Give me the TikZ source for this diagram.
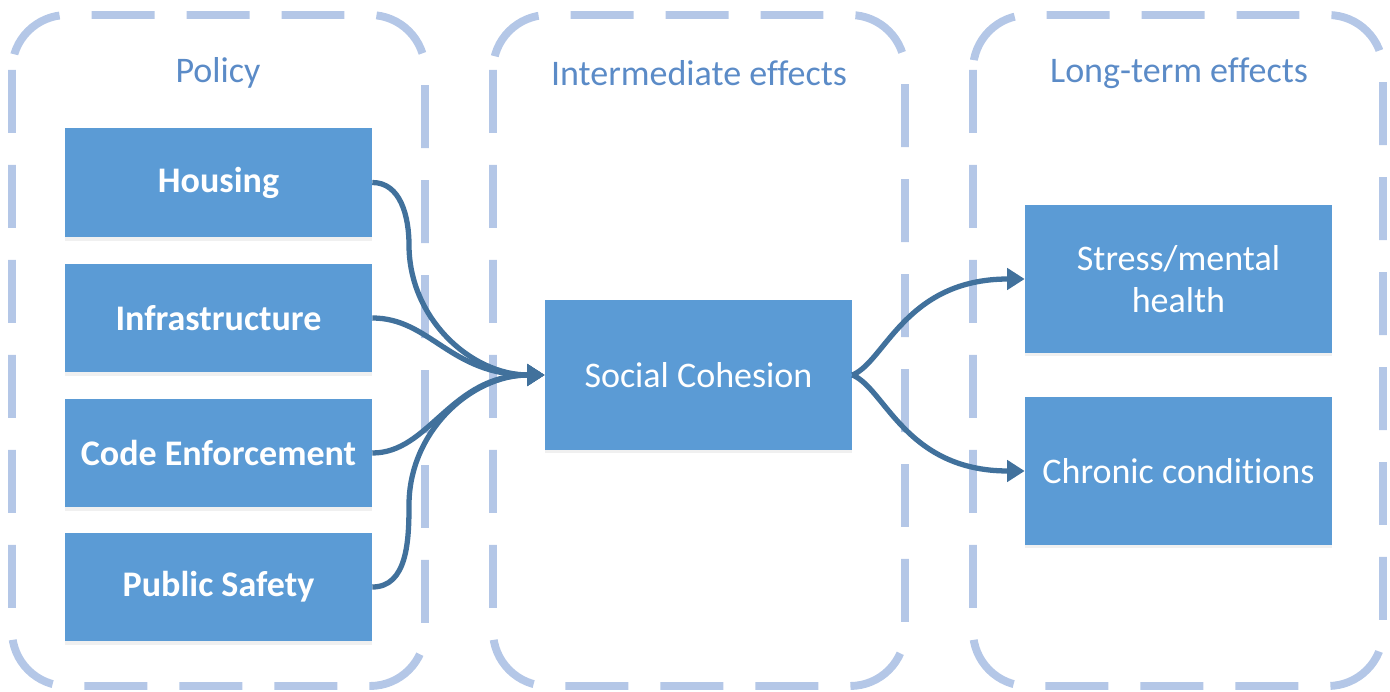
\documentclass[tikz,border=0pt]{standalone}
\usepackage{fontspec}
\setmainfont{Carlito}[Ligatures=NoCommon]
\usepackage{tikz}
\usetikzlibrary{positioning, arrows.meta, shadows}
\definecolor{zoneblue}{HTML}{B4C7E7}
\definecolor{boxblue}{HTML}{5B9BD5}
\definecolor{titleblue}{HTML}{5B8BC7}
\definecolor{flowblue}{HTML}{41719C}

\begin{document}
\begin{tikzpicture}[
    x=0.02cm, y=-0.02cm,
    zone/.style={
        draw=zoneblue,
        line width=4.5pt,
        dash pattern=on 1.26cm off 0.64cm,
        rounded corners=1.1cm,
    },
    heading/.style={
        font=\fontsize{20.5}{24}\selectfont,
        text=titleblue,
    },
    box/.style={
        rectangle,
        fill=boxblue,
        text=white,
        inner sep=0pt,
        minimum width=6.14cm,
        minimum height=2.18cm,
        align=center,
        font=\fontsize{20.5}{24}\selectfont,
        drop shadow={opacity=0.12, shadow xshift=0pt, shadow yshift=-2pt},
    },
    policy/.style={box, font=\fontsize{20.5}{24}\selectfont\bfseries},
    effect/.style={box, minimum height=2.96cm},
    flow/.style={-{Triangle[length=10pt, width=12pt]}, line width=3pt, color=flowblue}
]
\useasboundingbox (0,0) rectangle (1390,692);

% dashed zones
\draw[zone] (12,15) rectangle (425,686);
\draw[zone] (493,15) rectangle (905,686);
\draw[zone] (973,15) rectangle (1383,686);

\node[heading] (tPolicy) at (218,73) {Policy};
\node[heading] (tInter) at (699,73) {Intermediate effects};
\node[heading] (tLong) at (1179,73) {Long-term effects};

% policy boxes
\node[policy] (Housing) at (218.5,182.5) {Housing};
\node[policy] (Infra) at (218.5,318) {Infrastructure};
\node[policy] (Code) at (218.5,453) {Code Enforcement};
\node[policy] (Safety) at (218.5,587) {Public Safety};

\node[box, minimum height=3cm] (Cohesion) at (698.5,375) {Social Cohesion};

\node[effect] (Stress) at (1178.5,279) {Stress/mental\\health};
\node[effect] (Chronic) at (1178.5,471) {Chronic conditions};

\draw[flow] (Housing.east) to[out=0, in=90] (409,245) to[out=-90, in=180] (Cohesion.west);
\draw[flow] (Infra.east) .. controls (430,318) and (450,375) .. (Cohesion.west);
\draw[flow] (Code.east) .. controls (430,453) and (450,375) .. (Cohesion.west);
\draw[flow] (Safety.east) to[out=0, in=-90] (409,505) to[out=90, in=180] (Cohesion.west);

\draw[flow] (Cohesion.east) .. controls (885,362) and (905,279) .. (Stress.west);
\draw[flow] (Cohesion.east) .. controls (885,388) and (905,471) .. (Chronic.west);
\end{tikzpicture}
\end{document}
